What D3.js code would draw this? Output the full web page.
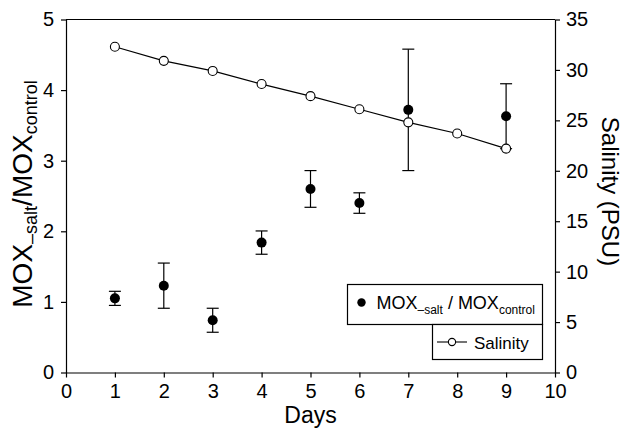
<!DOCTYPE html>
<html><head><meta charset="utf-8">
<script src="https://cdn.jsdelivr.net/npm/d3@7"></script>
<style>body{margin:0;background:#fff}svg{display:block}text{font-family:"Liberation Sans",Arial,sans-serif;fill:#000}</style>
</head><body><div id="chart"></div>
<script>
const days = [1,2,3,4,5,6,7,8,9];
const moxRatio = [1.05,1.23,0.74,1.84,2.60,2.40,3.72,null,3.63];
const moxErr =   [0.10,0.32,0.17,0.165,0.26,0.145,0.86,null,0.46];
const salinity = [32.3,30.9,29.9,28.6,27.4,26.1,24.8,23.7,22.2];
const xTicks = [0,1,2,3,4,5,6,7,8,9,10];
const yLeftTicks = [0,1,2,3,4,5];
const yRightTicks = [0,5,10,15,20,25,30,35];

const W=624,H=429;
const m={l:66,r:69,t:19.5,b:56.5};
const svg=d3.select("#chart").append("svg").attr("width",W).attr("height",H);
const x=d3.scaleLinear().domain([0,10]).range([m.l,W-m.r]);
const yL=d3.scaleLinear().domain([0,5]).range([H-m.b,m.t]);
const yR=d3.scaleLinear().domain([0,35]).range([H-m.b,m.t]);

// frame top
svg.append("line").attr("x1",x(0)).attr("x2",x(10)).attr("y1",yL(5)).attr("y2",yL(5)).attr("stroke","#000").attr("stroke-width",1.2);

const styleAxis=g=>{g.select(".domain").attr("stroke","#000").attr("stroke-width",1.2);g.selectAll(".tick line").attr("stroke","#000").attr("stroke-width",1.2);g.selectAll("text").style("font-size","20px").attr("fill","#000");};

svg.append("g").attr("transform",`translate(0,${yL(0)})`)
  .call(d3.axisBottom(x).tickValues(xTicks).tickFormat(d3.format("d")).tickSize(5).tickSizeOuter(0).tickPadding(6)).call(styleAxis);
svg.append("g").attr("transform",`translate(${x(0)},0)`)
  .call(d3.axisLeft(yL).tickValues(yLeftTicks).tickFormat(d3.format("d")).tickSize(5).tickSizeOuter(0).tickPadding(7)).call(styleAxis);
svg.append("g").attr("transform",`translate(${x(10)},0)`)
  .call(d3.axisRight(yR).tickValues(yRightTicks).tickFormat(d3.format("d")).tickSize(5).tickSizeOuter(0).tickPadding(6)).call(styleAxis);

// axis titles
svg.append("text").attr("x",x(5)).attr("y",423).attr("text-anchor","middle").style("font-size","23px").text("Days");
const lt=svg.append("text").attr("transform",`translate(32,194) rotate(-90)`).attr("text-anchor","middle").style("font-size","28px");
lt.append("tspan").text("MOX");
lt.append("tspan").attr("dy",5).style("font-size","18px").text("\u2013salt");
lt.append("tspan").attr("dy",-5).text("/MOX");
lt.append("tspan").attr("dy",5).style("font-size","18px").text("control");
svg.append("text").attr("transform",`translate(602,191.5) rotate(90)`).attr("text-anchor","middle").style("font-size","24px").text("Salinity (PSU)");

// salinity line
const line=d3.line().x((d,i)=>x(days[i])).y(d=>yR(d));
svg.append("path").datum(salinity).attr("d",line).attr("fill","none").attr("stroke","#000").attr("stroke-width",1.2);

// error bars
const mox=days.map((d,i)=>({d,v:moxRatio[i],e:moxErr[i]})).filter(o=>o.v!=null);
const eb=svg.append("g").attr("stroke","#000").attr("stroke-width",1.2);
mox.forEach(o=>{
  eb.append("line").attr("x1",x(o.d)).attr("x2",x(o.d)).attr("y1",yL(o.v-o.e)).attr("y2",yL(o.v+o.e));
  [o.v-o.e,o.v+o.e].forEach(v=>eb.append("line").attr("x1",x(o.d)-6).attr("x2",x(o.d)+6).attr("y1",yL(v)).attr("y2",yL(v)));
});
svg.append("g").selectAll("circle").data(mox).join("circle")
  .attr("cx",o=>x(o.d)).attr("cy",o=>yL(o.v)).attr("r",5).attr("fill","#000");
svg.append("g").selectAll("circle").data(salinity).join("circle")
  .attr("cx",(d,i)=>x(days[i])).attr("cy",d=>yR(d)).attr("r",4.5).attr("fill","#fff").attr("stroke","#000").attr("stroke-width",1.1);

// legend
const lg=svg.append("g");
lg.append("rect").attr("x",347.5).attr("y",284.5).attr("width",195).attr("height",40).attr("fill","#fff").attr("stroke","#000").attr("stroke-width",1.2);
lg.append("rect").attr("x",432.5).attr("y",324.5).attr("width",110).attr("height",35).attr("fill","#fff").attr("stroke","#000").attr("stroke-width",1.2);
lg.append("circle").attr("cx",361.5).attr("cy",302.5).attr("r",4.2).attr("fill","#000");
const t1=lg.append("text").attr("x",376.5).attr("y",308.5).style("font-size","18px");
t1.append("tspan").text("MOX");
t1.append("tspan").attr("dy",5).style("font-size","12px").text("\u2013salt");
t1.append("tspan").attr("dy",-5).text(" / MOX");
t1.append("tspan").attr("dy",5).style("font-size","12px").text("control");
lg.append("line").attr("x1",437).attr("x2",467).attr("y1",342).attr("y2",342).attr("stroke","#000").attr("stroke-width",1.1);
lg.append("circle").attr("cx",452).attr("cy",342).attr("r",3.6).attr("fill","#fff").attr("stroke","#000").attr("stroke-width",1.1);
lg.append("text").attr("x",474).attr("y",348.5).style("font-size","17px").text("Salinity");
</script></body></html>
